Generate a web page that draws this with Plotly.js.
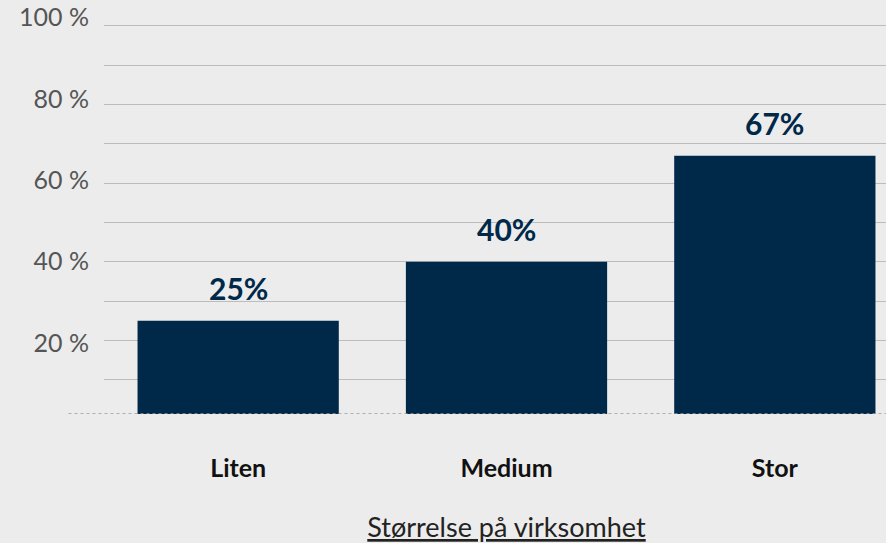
<!DOCTYPE html>
<html>
<head>
<meta charset="utf-8">
<script src="https://cdn.plot.ly/plotly-3.0.1.min.js"></script>
<style>html,body{margin:0;padding:0;background:#ececec;overflow:hidden;width:886px;height:543px;}</style>
</head>
<body>
<div id="chart" style="width:909px;height:543px;"></div>
<script>
const categories = ["Liten", "Medium", "Stor"];
const values = [25, 40, 67];
const valueLabels = ["25%", "40%", "67%"];
const gridVals = [10, 20, 30, 40, 50, 60, 70, 80, 90, 100];
const yTickVals = [20, 40, 60, 80, 100];
const yTickText = ["20 %", "40 %", "60 %", "80 %", "100 %"];
const xTitle = "Størrelse på virksomhet";

const FONT = "Lato, 'Source Sans Pro', sans-serif";
const NAVY = "#002849";

const barTrace = {
  type: "bar",
  x: categories,
  y: values,
  width: 0.75,
  marker: {color: NAVY},
  hoverinfo: "none"
};

// carrier trace for the label axis (draws nothing)
const labelAxisTrace = {
  type: "scatter",
  x: categories,
  y: values,
  yaxis: "y2",
  mode: "none",
  hoverinfo: "skip",
  showlegend: false
};

const annotations = categories.map((c, i) => ({
  x: c, y: values[i], xref: "x", yref: "y",
  text: "<b>" + valueLabels[i] + "</b>",
  showarrow: false, yanchor: "bottom", yshift: 13,
  font: {family: FONT, size: 30, color: NAVY}
}));

const layout = {
  width: 909, height: 543,
  margin: {l: 104, r: 0, t: 10, b: 129, pad: 0},
  paper_bgcolor: "#ececec",
  plot_bgcolor: "rgba(0,0,0,0)",
  font: {family: FONT},
  showlegend: false,
  xaxis: {
    type: "category",
    range: [-0.5, 2.5],
    showgrid: false, zeroline: false, showline: false,
    ticks: "",
    tickfont: {family: FONT, size: 25, color: "#111", weight: "bold"},
    ticklabelstandoff: 37,
    title: {text: "<u>" + xTitle + "</u>", font: {family: FONT, size: 27, color: "#222"}, standoff: 37},
    automargin: false
  },
  yaxis: {
    domain: [0, 0.9634],
    range: [1.3, 100.3],
    tickvals: gridVals,
    showticklabels: false,
    showgrid: true, gridcolor: "#bcbcbc", gridwidth: 1,
    zeroline: false, showline: false,
    ticks: "",
    automargin: false
  },
  yaxis2: {
    domain: [0, 1],
    anchor: "x",
    side: "left",
    range: [2.555, 101.82],
    tickvals: yTickVals,
    ticktext: yTickText,
    showgrid: false, zeroline: false, showline: false,
    ticks: "",
    tickfont: {family: FONT, size: 25, color: "#555"},
    ticklabelstandoff: 14,
    automargin: false
  },
  annotations: annotations,
  shapes: [{
    type: "line", xref: "paper", yref: "y",
    x0: -0.0441, x1: 1, y0: 1.3, y1: 1.3,
    line: {color: "#9a9a9a", width: 1.5, dash: "dot"},
    layer: "above"
  }]
};

Plotly.newPlot("chart", [barTrace, labelAxisTrace], layout, {displayModeBar: false, staticPlot: true});
</script>
</body>
</html>
